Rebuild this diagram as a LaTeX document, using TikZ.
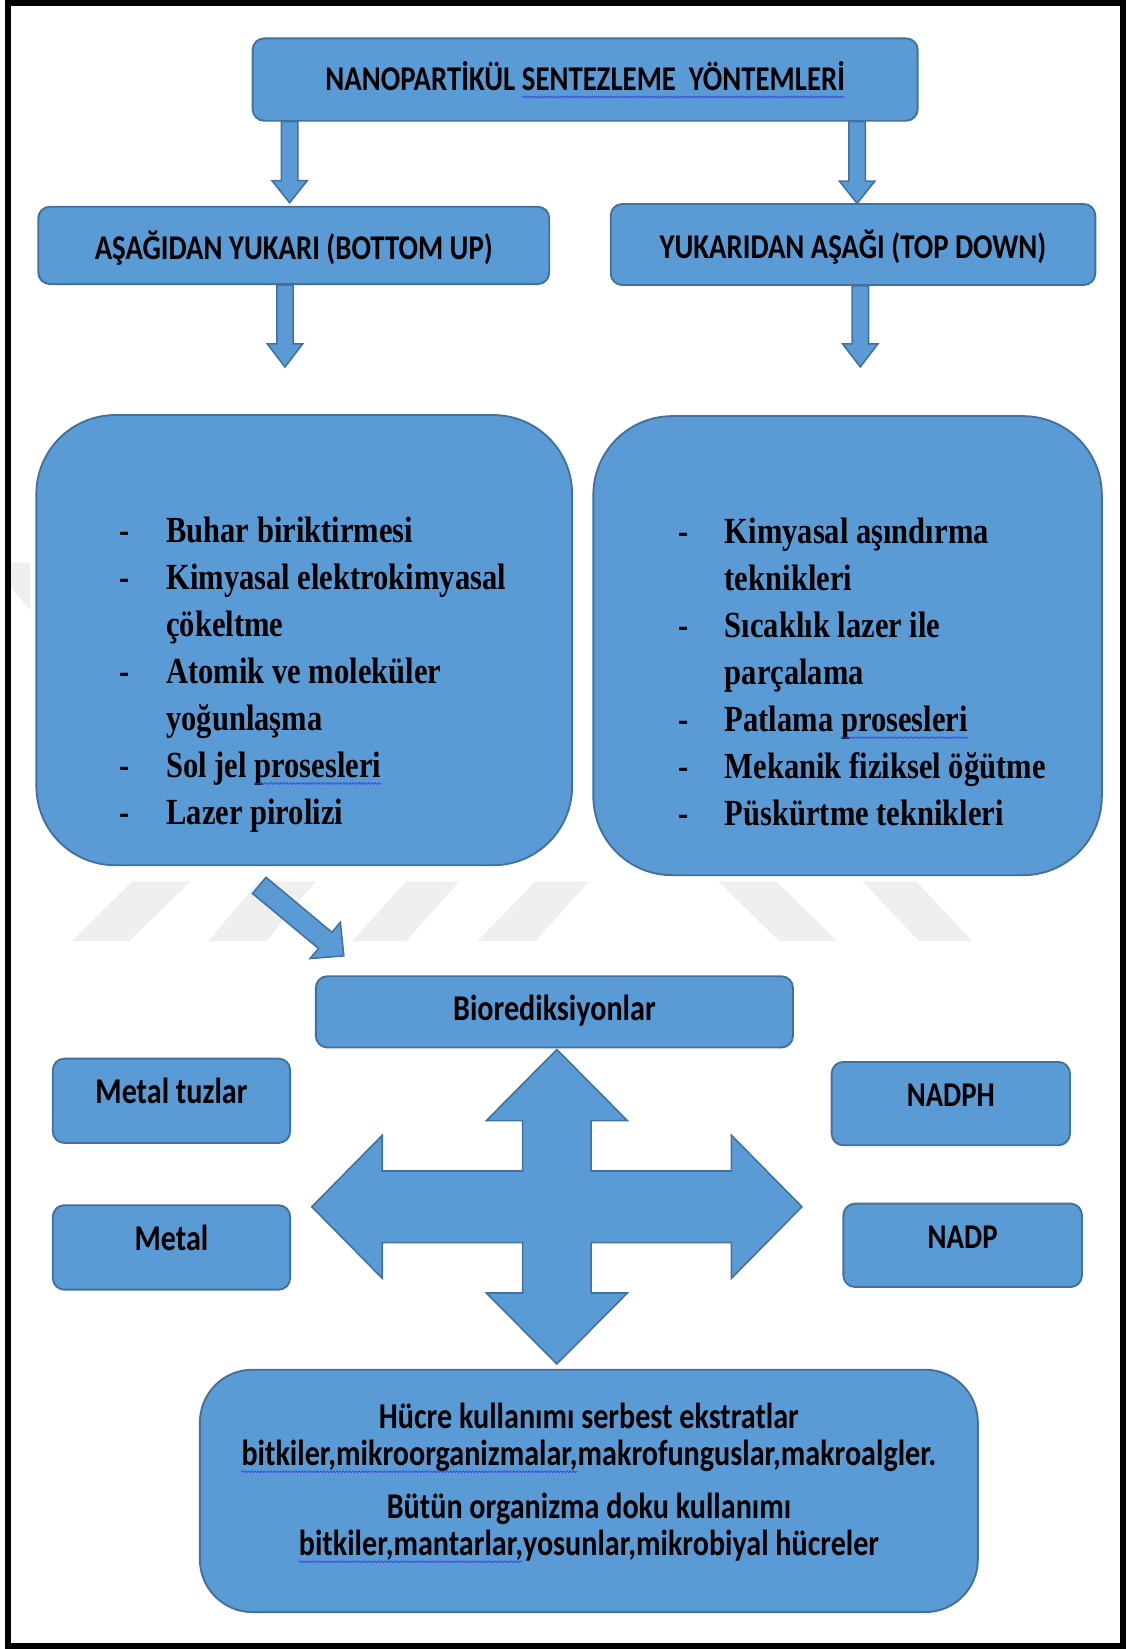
\documentclass[tikz,border=0pt]{standalone}
\usepackage{fontspec}
\usetikzlibrary{calc,decorations.pathmorphing}
\newfontfamily\calfam[FakeStretch=0.83]{Carlito}
\newfontfamily\tmsfam[FakeStretch=0.83]{Liberation Serif}
\newcommand{\fcal}{\calfam\bfseries\fontsize{33}{40}\selectfont}
\newcommand{\fcalL}{\calfam\bfseries\fontsize{34.5}{40}\selectfont}
\newcommand{\ftms}{\tmsfam\bfseries\fontsize{35}{44.6}\selectfont}
\definecolor{bfill}{HTML}{5B9BD5}
\definecolor{bline}{HTML}{41719C}
\definecolor{wmark}{HTML}{EFEFEF}
\definecolor{squigc}{HTML}{3232E6}
\newlength{\wA}
\newlength{\wB}
\newlength{\wC}
\newlength{\wD}
\newlength{\wE}
\newlength{\wF}
\newcommand{\blockarrow}[6]{%
  \begin{scope}[shift={#1},rotate=#2]
    \draw[barrow] (0,-#4) -- ({#3-#6},-#4) -- ({#3-#6},-#5) -- (#3,0) -- ({#3-#6},#5) -- ({#3-#6},#4) -- (0,#4) -- cycle;
  \end{scope}}
\begin{document}
\settowidth{\wA}{\fcal NANOPARTİKÜL\ }%
\settowidth{\wB}{\fcal NANOPARTİKÜL SENTEZLEME\ \ YÖNTEMLERİ}%
\settowidth{\wC}{\ftms Sol jel\ }%
\settowidth{\wD}{\ftms Patlama\ }%
\settowidth{\wE}{\fcalL bitkiler,mikroorganizmalar,}%
\settowidth{\wF}{\fcalL bitkiler,mantarlar,}%
\begin{tikzpicture}[x=1pt,y=-1pt,
  box/.style={draw=bline,fill=bfill,line width=1.8pt,rounded corners=11pt,inner sep=2pt,font=\fcal,text=black,text depth=16pt},
  bigbox/.style={draw=bline,fill=bfill,line width=1.8pt,inner sep=0pt},
  lst/.style={anchor=base west,inner sep=0pt,font=\ftms},
  ctxt/.style={anchor=base,inner sep=0pt,font=\fcalL},
  barrow/.style={draw=bline,fill=bfill,line width=1.5pt,line join=miter},
  squig/.style={draw=squigc,line width=0.5pt,decorate,decoration={snake,amplitude=0.9pt,segment length=3pt}},
  wm/.style={fill=wmark,draw=none}]
\useasboundingbox (0,0) rectangle (1071,1568);

% faint watermark
\fill[wm] (9.8,535) -- (28.5,535) -- (28.5,580) -- (9.8,558) -- cycle;
\fill[wm] (68,895) -- (126,838) -- (181,838) -- (123,895) -- cycle;
\fill[wm] (198,895) -- (246,838) -- (300,838) -- (253,895) -- cycle;
\fill[wm] (335,895) -- (386,838) -- (437,838) -- (386,895) -- cycle;
\fill[wm] (454,895) -- (509,838) -- (560,838) -- (509,895) -- cycle;
\fill[wm] (683,838) -- (738,838) -- (796,895) -- (741,895) -- cycle;
\fill[wm] (820,838) -- (871,838) -- (925,895) -- (874,895) -- cycle;

% outer frame
\draw[line width=5.5pt] (7.4,3.2) rectangle (1067.5,1565.5);

% boxes
\node[box,minimum width=632.4pt,minimum height=78.3pt,text height=37.1pt] (title) at (556.4,75.65) {NANOPARTİKÜL SENTEZLEME\ \ YÖNTEMLERİ};
\node[box,minimum width=485.9pt,minimum height=73.5pt,text height=42.7pt] (bu) at (279.35,233.35) {AŞAĞIDAN YUKARI (BOTTOM UP)};
\node[box,minimum width=460.8pt,minimum height=77pt,text height=42.4pt] (td) at (811.1,232.5) {YUKARIDAN AŞAĞI (TOP DOWN)};

\node[bigbox,rounded corners=75pt,minimum width=509.4pt,minimum height=428pt] (lb) at (289.3,608.7) {};
\node[bigbox,rounded corners=75pt,minimum width=483.5pt,minimum height=436.5pt] (rb) at (805.95,613.95) {};

% arrows between levels
\coordinate (a1) at ($(title.south)+(-281,0)$);
\coordinate (a2) at ($(title.south)+(258.6,0)$);
\coordinate (a3) at ($(bu.south)+(-8.35,0)$);
\coordinate (a4) at ($(td.south)+(6.9,0)$);
\coordinate (a5) at ($(lb.south)+(-42.8,18.3)$);
\blockarrow{(a1)}{-90}{77}{7.8}{16.8}{21}
\blockarrow{(a2)}{-90}{77.6}{7.8}{16.8}{21}
\blockarrow{(a3)}{-90}{78}{7.8}{16.8}{22}
\blockarrow{(a4)}{-90}{77}{7.8}{16.8}{22}
\blockarrow{(a5)}{-39.8}{104.7}{10}{22.4}{23}

% left list
\node[lst] (ld1) at (113,516) {-};
\node[lst] (lt1) at (158,516) {Buhar biriktirmesi};
\node[lst] (ld2) at (113,560.6) {-};
\node[lst] (lt2) at (158,560.6) {Kimyasal elektrokimyasal};
\node[lst] (lt3) at (158,605.2) {çökeltme};
\node[lst] (ld4) at (113,649.8) {-};
\node[lst] (lt4) at (158,649.8) {Atomik ve moleküler};
\node[lst] (lt5) at (158,694.4) {yoğunlaşma};
\node[lst] (ld6) at (113,739) {-};
\node[lst] (lt6) at (158,739) {Sol jel prosesleri};
\node[lst] (ld7) at (113,783.6) {-};
\node[lst] (lt7) at (158,783.6) {Lazer pirolizi};

% right list
\node[lst] (rd1) at (644.5,517) {-};
\node[lst] (rt1) at (689,517) {Kimyasal aşındırma};
\node[lst] (rt2) at (689,561.6) {teknikleri};
\node[lst] (rd3) at (644.5,606.2) {-};
\node[lst] (rt3) at (689,606.2) {Sıcaklık lazer ile};
\node[lst] (rt4) at (689,650.8) {parçalama};
\node[lst] (rd5) at (644.5,695.4) {-};
\node[lst] (rt5) at (689,695.4) {Patlama prosesleri};
\node[lst] (rd6) at (644.5,740) {-};
\node[lst] (rt6) at (689,740) {Mekanik fiziksel öğütme};
\node[lst] (rd7) at (644.5,784.6) {-};
\node[lst] (rt7) at (689,784.6) {Püskürtme teknikleri};

% cross arrow
\begin{scope}[shift={(529.5,1147.5)}]
\draw[barrow] (0,-149.5) -- (67,-82) -- (32.5,-82) -- (32.5,-34) -- (166,-34) -- (166,-68) -- (233,0)
  -- (166,68) -- (166,34) -- (32.5,34) -- (32.5,82) -- (67,82) -- (0,149.5) -- (-67,82) -- (-32.5,82)
  -- (-32.5,34) -- (-166,34) -- (-166,68) -- (-233,0) -- (-166,-68) -- (-166,-34) -- (-32.5,-34)
  -- (-32.5,-82) -- (-67,-82) -- cycle;
\end{scope}

% lower boxes
\node[box,font=\fcalL,minimum width=453.7pt,minimum height=67.7pt,text height=31.7pt] (bio) at (527.15,962.15) {Biorediksiyonlar};
\node[box,font=\fcalL,minimum width=225.7pt,minimum height=80.2pt,text height=21.4pt] (mt) at (163.05,1046.7) {Metal tuzlar};
\node[box,font=\fcalL,minimum width=225.7pt,minimum height=80.3pt,text height=21.7pt] (me) at (163.05,1186.15) {Metal};
\node[box,minimum width=226.6pt,minimum height=79.2pt,text height=22.4pt] (nh) at (904.1,1049.4) {NADPH};
\node[box,minimum width=226.8pt,minimum height=79.3pt,text height=22.3pt] (np) at (915.4,1184.15) {NADP};

\node[bigbox,rounded corners=50pt,minimum width=739.7pt,minimum height=230.5pt] (bb) at (559.95,1417.65) {};
\node[ctxt] (h1) at (560,1358.5) {Hücre kullanımı serbest ekstratlar};
\node[ctxt] (h2) at (560,1393.4) {bitkiler,mikroorganizmalar,makrofunguslar,makroalgler.};
\node[ctxt] (h3) at (560,1444) {Bütün organizma doku kullanımı};
\node[ctxt] (h4) at (560,1479) {bitkiler,mantarlar,yosunlar,mikrobiyal hücreler};

% spell-check squiggles
\draw[squig] ([xshift=-0.5\wB+\wA,yshift=-6pt]title.base) -- ([xshift=0.5\wB,yshift=-6pt]title.base);
\draw[squig] ([xshift=\wC,yshift=-6pt]lt6.base west) -- ([yshift=-6pt]lt6.base east);
\draw[squig] ([xshift=\wD,yshift=-6pt]rt5.base west) -- ([yshift=-6pt]rt5.base east);
\draw[squig] ([yshift=-6pt]h2.base west) -- ([xshift=\wE,yshift=-6pt]h2.base west);
\draw[squig] ([yshift=-6pt]h4.base west) -- ([xshift=\wF,yshift=-6pt]h4.base west);
\end{tikzpicture}
\end{document}
